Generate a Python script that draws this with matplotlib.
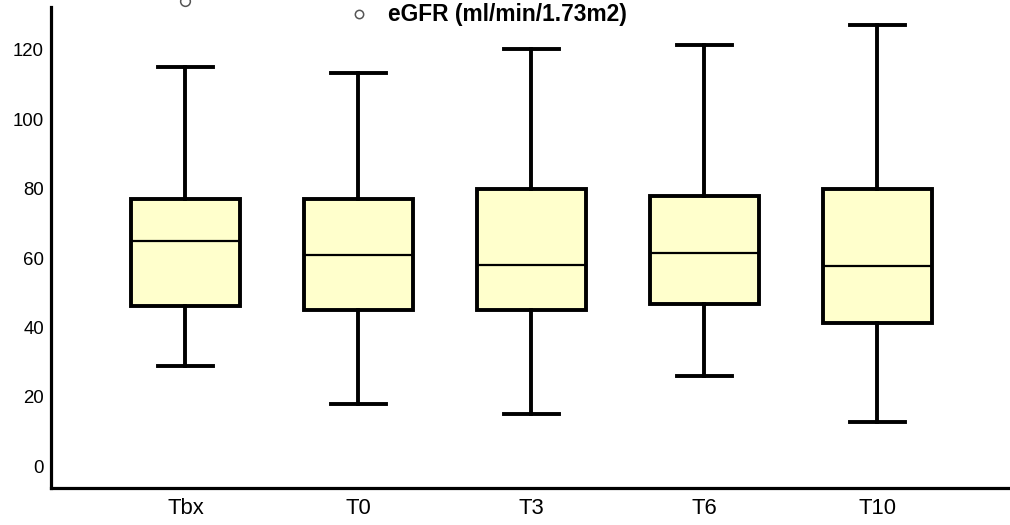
import matplotlib
matplotlib.use("Agg")
import matplotlib.pyplot as plt
from matplotlib.lines import Line2D

plt.rcParams['font.family'] = ['Liberation Sans', 'DejaVu Sans']

# eGFR summary per time point
groups = ["Tbx", "T0", "T3", "T6", "T10"]
whisker_low = [28.9, 17.9, 15.0, 26.0, 12.8]
q1 = [46.2, 44.9, 44.9, 46.8, 41.3]
median = [64.9, 60.8, 57.9, 61.5, 57.6]
q3 = [77.0, 76.9, 79.8, 78.0, 79.8]
whisker_high = [115.1, 113.4, 120.3, 121.5, 127.2]
outliers = [[134.2], [], [], [], []]

stats = []
for i, name in enumerate(groups):
    stats.append({
        "label": name,
        "whislo": whisker_low[i],
        "q1": q1[i],
        "med": median[i],
        "q3": q3[i],
        "whishi": whisker_high[i],
        "fliers": outliers[i],
    })

fig = plt.figure(figsize=(10.1, 5.25), dpi=100)
ax = fig.add_axes([0.0505, 0.0705, 0.9495, 0.9162])

ax.bxp(
    stats,
    positions=range(len(groups)),
    widths=0.63,
    patch_artist=True,
    boxprops=dict(facecolor="#ffffcc", edgecolor="black", linewidth=2.8),
    whiskerprops=dict(color="black", linewidth=2.8),
    capprops=dict(color="black", linewidth=2.8),
    medianprops=dict(color="black", linewidth=1.6),
    flierprops=dict(marker="o", markersize=7, markerfacecolor="white",
                    markeredgecolor="#555555", markeredgewidth=1.1),
)
for line in ax.lines:
    line.set_clip_on(False)

ax.set_xlim(-0.777, 4.766)
ax.set_ylim(-6.3, 132.4)
ax.set_yticks([0, 20, 40, 60, 80, 100, 120])
ax.set_xticks(range(len(groups)))
ax.set_xticklabels(groups)

ax.tick_params(axis="y", length=0, pad=5, labelsize=13.4)
ax.tick_params(axis="x", length=0, pad=7, labelsize=15.8)

for side in ["top", "right"]:
    ax.spines[side].set_visible(False)
for side in ["left", "bottom"]:
    ax.spines[side].set_linewidth(2.3)

# legend entry for outlier marker
fig.add_artist(Line2D([359 / 1010], [1 - 14 / 525], transform=fig.transFigure,
                      marker="o", markersize=6, markerfacecolor="white",
                      markeredgecolor="#555555", markeredgewidth=1.1, linestyle="none"))
fig.text(388 / 1010, 1 - 14 / 525, "eGFR (ml/min/1.73m2)", fontsize=16.4,
         fontweight="bold", ha="left", va="center")

fig.savefig("out.png", dpi=100)
